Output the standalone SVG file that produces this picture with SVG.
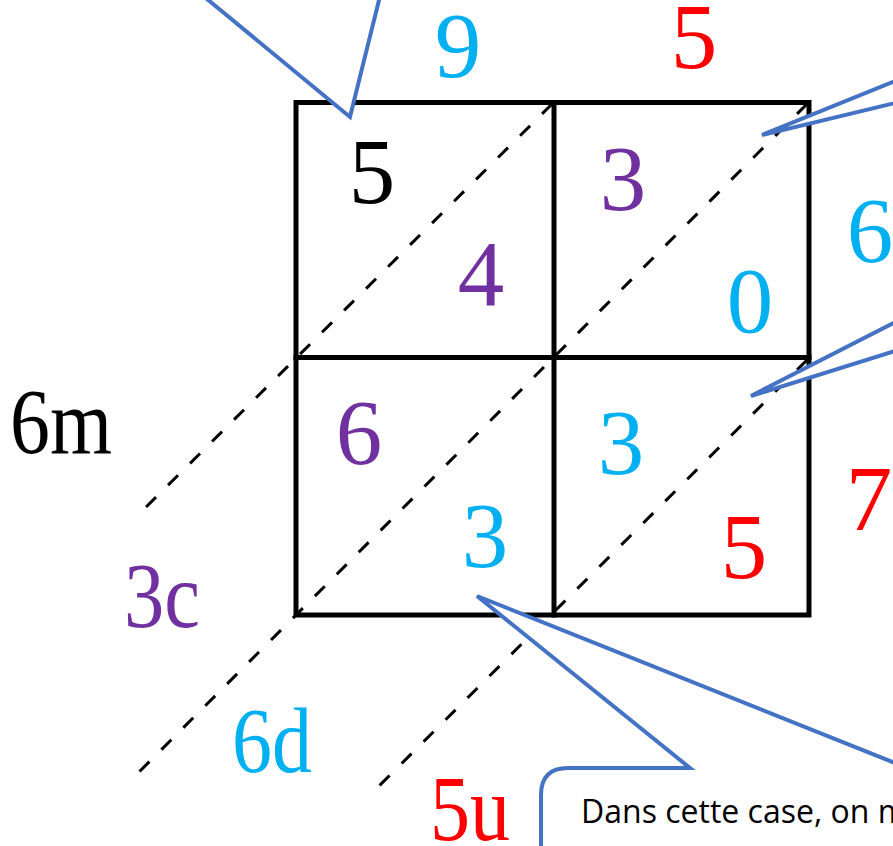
<svg xmlns="http://www.w3.org/2000/svg" width="893" height="846" viewBox="0 0 893 846">
<defs>
<style>
.grid{stroke:#000;stroke-width:5;fill:none;stroke-linecap:square}
.diag{stroke:#000;stroke-width:3;fill:none;stroke-dasharray:14 17}
.num{font-family:"Liberation Serif","Times New Roman",serif;font-size:93px;text-anchor:middle}
.lbl{font-family:"Liberation Serif","Times New Roman",serif;font-size:93px}
.cy{fill:#00B0F0}.pu{fill:#7030A0}.rd{fill:#FF0000}.bk{fill:#000}
.call{fill:#fff;stroke:#4472C4;stroke-width:4;stroke-linejoin:miter}
.txt{font-family:"Open Sans","Liberation Sans",sans-serif;font-size:32px;fill:#000}
</style>
</defs>
<rect width="893" height="846" fill="#fff"/>
<g id="grid">
<rect class="grid" x="296" y="102.5" width="513" height="512.5"/>
<line class="grid" x1="554" y1="102.5" x2="554" y2="615"/>
<line class="grid" x1="296" y1="357.5" x2="809" y2="357.5"/>
</g>
<g id="connectors">
<line class="diag" x1="552" y1="104" x2="137" y2="516"/>
<line class="diag" x1="807" y1="104" x2="133" y2="778"/>
<line class="diag" x1="807" y1="360" x2="370" y2="795"/>
</g>
<g id="cell-top-left">
<text class="num bk" x="372" y="203">5</text>
<text class="num pu" x="481" y="305">4</text>
</g>
<g id="cell-top-right">
<text class="num pu" x="623" y="210">3</text>
<text class="num cy" x="750" y="332">0</text>
</g>
<g id="cell-bottom-left">
<text class="num pu" x="359" y="464">6</text>
<text class="num cy" x="485" y="567">3</text>
</g>
<g id="cell-bottom-right">
<text class="num cy" x="621" y="474">3</text>
<text class="num rd" x="744" y="578">5</text>
</g>
<g id="top-labels">
<text class="num cy" x="458" y="77">9</text>
<text class="num rd" x="694" y="68">5</text>
</g>
<g id="right-labels">
<text class="num cy" x="870" y="262">6</text>
<text class="num rd" x="869" y="530">7</text>
</g>
<g id="result-labels">
<text class="lbl bk" x="10" y="453" textLength="102" lengthAdjust="spacingAndGlyphs">6m</text>
<text class="lbl pu" x="124" y="627" textLength="76" lengthAdjust="spacingAndGlyphs">3c</text>
<text class="lbl cy" x="232" y="772" textLength="80" lengthAdjust="spacingAndGlyphs">6d</text>
<text class="lbl rd" x="430" y="840" textLength="80" lengthAdjust="spacingAndGlyphs">5u</text>
</g>
<g id="callout-top-left">
<path class="call" d="M184 -20 L350 117 L384 -20 Z"/>
</g>
<g id="callout-top-right">
<path class="call" d="M920 71 L762 135 L920 97 Z"/>
</g>
<g id="callout-middle-right">
<path class="call" d="M920 309.5 L751 396 L920 343.3 Z"/>
</g>
<g id="callout-bottom">
<path class="call" d="M541 870 L541 795 Q541 768 568 768 L690 768 L477 596 L950 785 L950 870 Z"/>
<text class="txt" x="581" y="823">Dans cette case, on m</text>
</g>
</svg>
